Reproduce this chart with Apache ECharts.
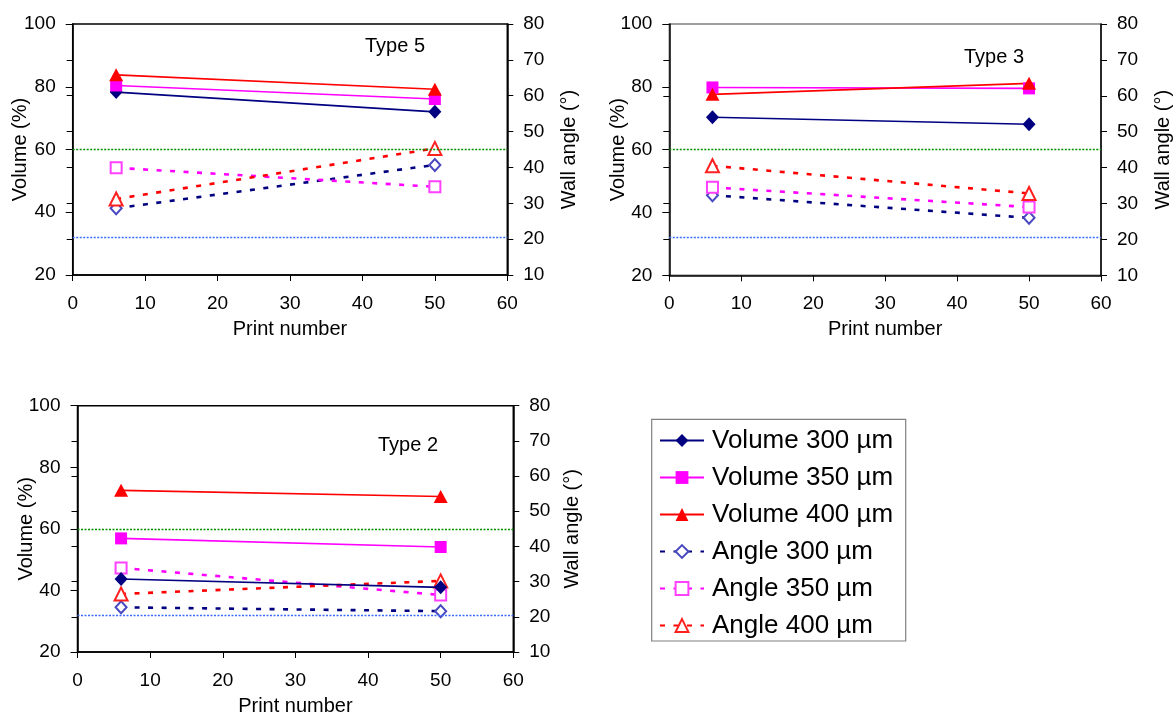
<!DOCTYPE html>
<html>
<head>
<meta charset="utf-8">
<script src="https://cdn.jsdelivr.net/npm/echarts@6/dist/echarts.min.js"></script>
<style>
html,body{margin:0;padding:0;background:#fff;}
#chart{width:1174px;height:717px;}
</style>
</head>
<body>
<div id="chart"></div>
<script>
// ---- data ----
const printNumbers = [6, 50];
const typeNames = ['Type 5', 'Type 3', 'Type 2'];
const seriesNames = ['Volume 300 µm', 'Volume 350 µm', 'Volume 400 µm', 'Angle 300 µm', 'Angle 350 µm', 'Angle 400 µm'];
// per type: [Type 5, Type 3, Type 2], each [print 6, print 50]
const volume300 = [[78.3, 72.0], [70.3, 68.1], [43.7, 41.0]];
const volume350 = [[80.4, 76.1], [79.8, 79.5], [56.9, 54.1]];
const volume400 = [[83.8, 79.2], [77.6, 81.1], [72.5, 70.5]];
const angle300 = [[28.6, 40.7], [32.3, 26.0], [22.7, 21.6]];
const angle350 = [[39.9, 34.6], [34.5, 29.0], [33.9, 26.2]];
const angle400 = [[31.2, 45.3], [40.5, 32.8], [26.5, 30.2]];
const thresholdAngles = [45, 20.5];
const xTicks = [0, 10, 20, 30, 40, 50, 60];
const volumeTicks = [20, 40, 60, 80, 100];
const angleTicks = [10, 20, 30, 40, 50, 60, 70, 80];

// ---- layout ----
const FONT = "'Liberation Sans', Arial, sans-serif";
const grids = [
  {left: 72.7, top: 24, width: 434.6, height: 251, border: '#000', leftNameGap: 42, rightNameGap: 52, titleX: 395, titleY: 46},
  {left: 669.3, top: 24, width: 433.6, height: 251.3, border: '#808080', leftNameGap: 41, rightNameGap: 52, titleX: 994, titleY: 57},
  {left: 77.5, top: 405.7, width: 435.8, height: 248.6, border: '#000', leftNameGap: 41, rightNameGap: 49, titleX: 408, titleY: 445}
];
const volumeData = [volume300, volume350, volume400];
const angleData = [angle300, angle350, angle400];
const volStyles = [
  {color: '#000080', symbol: 'diamond', size: [13, 14]},
  {color: '#FF00FF', symbol: 'rect', size: 12},
  {color: '#FF0000', symbol: 'triangle', size: [14, 13]}
];
const angStyles = [
  {color: '#000080', mark: '#4848c0', symbol: 'emptyDiamond', size: [11, 12]},
  {color: '#FF00FF', mark: '#FF40FF', symbol: 'emptyRect', size: 11},
  {color: '#FF0000', mark: '#FF2020', symbol: 'emptyTriangle', size: [13, 13]}
];
const thresholdColors = ['#009000', '#3a6bff'];

const gridOpt = [], xAxes = [], yAxes = [], series = [], graphics = [];
grids.forEach((g, gi) => {
  gridOpt.push({left: g.left, top: g.top, width: g.width, height: g.height, show: true,
    borderColor: g.border, borderWidth: 1.5, backgroundColor: 'transparent', containLabel: false});
  xAxes.push({
    type: 'value', gridIndex: gi, min: xTicks[0], max: xTicks[xTicks.length - 1], interval: xTicks[1] - xTicks[0],
    axisLine: {show: true, onZero: false, lineStyle: {color: '#000', width: 1.5}},
    axisTick: {show: true, inside: false, length: 6, lineStyle: {color: '#000', width: 1}},
    axisLabel: {fontSize: 19, color: '#000', fontFamily: FONT, margin: 19},
    splitLine: {show: false},
    name: 'Print number', nameLocation: 'middle', nameGap: 44, nameMoveOverlap: false,
    nameTextStyle: {fontSize: 20, color: '#000', fontFamily: FONT}
  });
  yAxes.push({
    type: 'value', gridIndex: gi, position: 'left', min: volumeTicks[0], max: volumeTicks[volumeTicks.length - 1],
    interval: volumeTicks[1] - volumeTicks[0],
    axisLine: {show: true, onZero: false, lineStyle: {color: '#000', width: 1.5}},
    axisTick: {show: true, inside: false, length: 7, lineStyle: {color: '#000', width: 1}},
    axisLabel: {fontSize: 19, color: '#000', fontFamily: FONT, margin: 17},
    splitLine: {show: false},
    name: 'Volume (%)', nameLocation: 'middle', nameGap: g.leftNameGap, nameMoveOverlap: false,
    nameTextStyle: {fontSize: 20, color: '#000', fontFamily: FONT}
  });
  yAxes.push({
    type: 'value', gridIndex: gi, position: 'right', min: angleTicks[0], max: angleTicks[angleTicks.length - 1],
    interval: angleTicks[1] - angleTicks[0],
    axisLine: {show: true, onZero: false, lineStyle: {color: '#000', width: 1.5}},
    axisTick: {show: true, inside: false, length: 6, lineStyle: {color: '#000', width: 1}},
    axisLabel: {fontSize: 19, color: '#000', fontFamily: FONT, margin: 16},
    splitLine: {show: false},
    name: 'Wall angle (°)', nameLocation: 'middle', nameGap: g.rightNameGap, nameMoveOverlap: false,
    nameTextStyle: {fontSize: 20, color: '#000', fontFamily: FONT}
  });
  // inner ticks of the right axis (ticks cross the axis in the reference)
  yAxes.push({
    type: 'value', gridIndex: gi, position: 'right', min: angleTicks[0], max: angleTicks[angleTicks.length - 1],
    interval: angleTicks[1] - angleTicks[0],
    axisLine: {show: false}, axisLabel: {show: false}, splitLine: {show: false},
    axisTick: {show: true, inside: true, length: 6, lineStyle: {color: '#000', width: 1}}
  });
  const yL = gi * 3, yR = gi * 3 + 1;
  volumeData.forEach((arr, si) => {
    const st = volStyles[si];
    series.push({
      type: 'line', name: seriesNames[si], xAxisIndex: gi, yAxisIndex: yL,
      data: printNumbers.map((x, k) => [x, arr[gi][k]]),
      symbol: st.symbol, symbolSize: st.size, showSymbol: true,
      lineStyle: {color: st.color, width: 1.6, type: 'solid'},
      itemStyle: {color: st.color},
      z: 3, animation: false
    });
  });
  angleData.forEach((arr, si) => {
    const st = angStyles[si];
    const s = {
      type: 'line', name: seriesNames[3 + si], xAxisIndex: gi, yAxisIndex: yR,
      data: printNumbers.map((x, k) => [x, arr[gi][k]]),
      symbol: st.symbol, symbolSize: st.size, showSymbol: true,
      lineStyle: {color: st.color, width: 2.6, type: [5, 8.5]},
      itemStyle: {color: st.mark, borderWidth: 1.2},
      z: 2, animation: false
    };
    if (si < thresholdAngles.length) {
      s.markLine = {
        silent: true, symbol: 'none', label: {show: false}, animation: false,
        lineStyle: {color: thresholdColors[si], width: 1.3, type: [2, 1.5], opacity: 1},
        data: [{yAxis: thresholdAngles[si]}]
      };
    }
    series.push(s);
  });
  graphics.push({
    type: 'text', x: g.titleX, y: g.titleY, z: 5,
    style: {text: typeNames[gi], fontSize: 20, fontFamily: FONT, fill: '#000', align: 'center', verticalAlign: 'middle'}
  });
});

graphics.push({
  type: 'rect', shape: {x: 651.7, y: 419.3, width: 254, height: 221.7}, z: -1,
  style: {fill: '#fff', stroke: '#808080', lineWidth: 1.2}
});

const chart = echarts.init(document.getElementById('chart'), null, {renderer: 'canvas'});
chart.setOption({
  animation: false,
  backgroundColor: '#fff',
  textStyle: {fontFamily: FONT},
  grid: gridOpt,
  xAxis: xAxes,
  yAxis: yAxes,
  series: series,
  graphic: graphics,
  legend: {
    data: seriesNames,
    orient: 'vertical', left: 659, top: 427, padding: 0,
    itemWidth: 44, itemHeight: 16, itemGap: 10,
    textStyle: {fontSize: 26, color: '#000', fontFamily: FONT, padding: [0, 0, 0, 3], lineHeight: 27},
    selectedMode: false, z: 10
  }
});
</script>
</body>
</html>
